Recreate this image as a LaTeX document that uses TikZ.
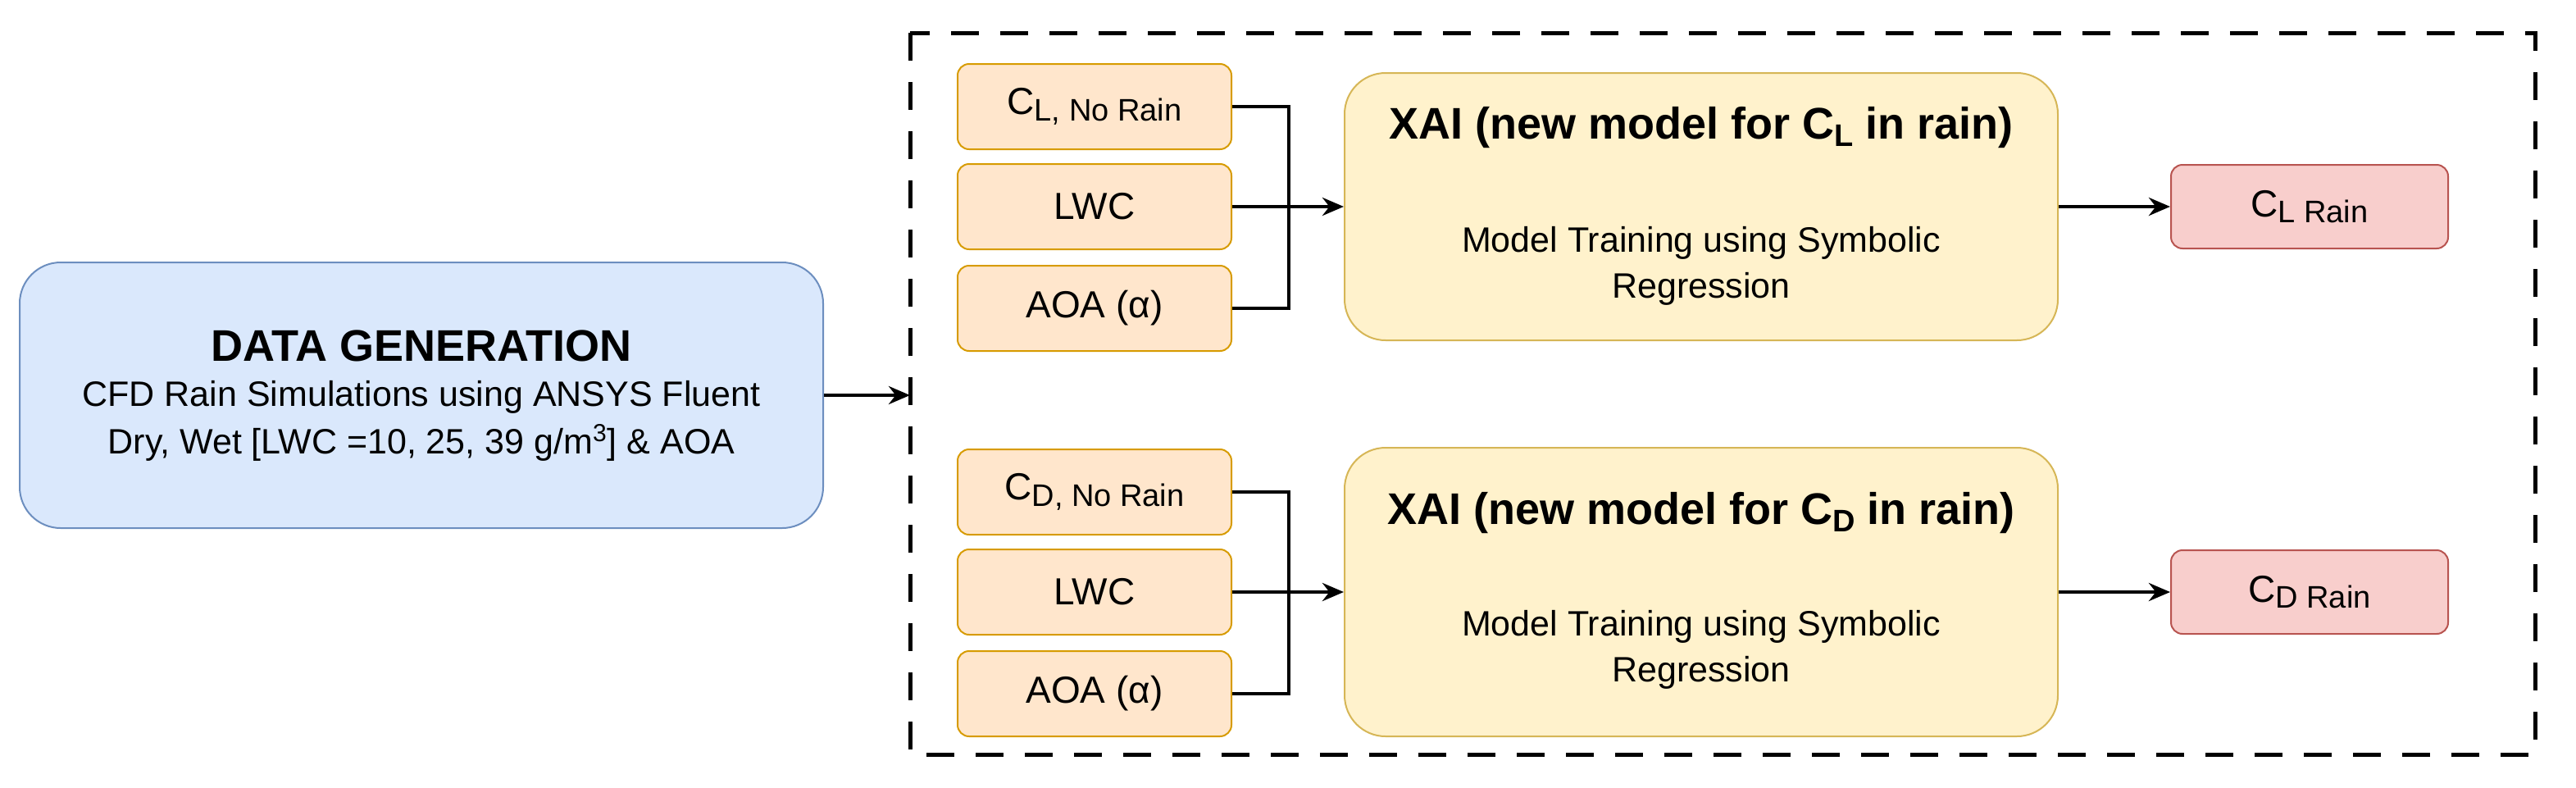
\documentclass[tikz,border=0pt]{standalone}
\usepackage{fontspec}
\setmainfont{Liberation Sans}
\usetikzlibrary{arrows.meta}
\definecolor{bf}{HTML}{DAE8FC}\definecolor{bs}{HTML}{6C8EBF}
\definecolor{of}{HTML}{FFE6CC}\definecolor{os}{HTML}{D79B00}
\definecolor{yf}{HTML}{FFF2CC}\definecolor{ys}{HTML}{D6B656}
\definecolor{rf}{HTML}{F8CECC}\definecolor{rs}{HTML}{B85450}
\newcommand{\sbs}[1]{\raisebox{-0.3ex}{\fontsize{19}{22}\selectfont #1}}
\begin{document}
\begin{tikzpicture}[x=1pt,y=-1pt,
 box/.style={draw,line width=1pt,rounded corners=#1,inner sep=0pt},
 inb/.style={box=7pt,fill=of,draw=os,minimum width=167pt,minimum height=52pt,font=\fontsize{23}{27}\selectfont},
 outb/.style={box=7pt,fill=rf,draw=rs,minimum width=169pt,minimum height=51pt,font=\fontsize{23}{27}\selectfont},
 xai/.style={box=25pt,fill=yf,draw=ys,minimum width=435pt,align=center},
 con/.style={line width=2.2pt},
 arr/.style={con,-{Stealth[length=13pt,width=11pt]}}]
\useasboundingbox (0,0) rectangle (1571,480);
\draw[line width=2.5pt,dash pattern=on 17pt off 13pt] (555,20) rectangle (1546,460);
\node[box=25pt,fill=bf,draw=bs,minimum width=490pt,minimum height=162pt,align=center] (dg) at (257,241) {};
\node[font=\fontsize{27}{30}\selectfont\bfseries] (dgt) at (257,211) {DATA GENERATION};
\node[font=\fontsize{21.5}{24}\selectfont] (dg1) at (257,242) {CFD Rain Simulations using ANSYS Fluent};
\node[font=\fontsize{21.5}{24}\selectfont] (dg2) at (257,270) {Dry, Wet [LWC =10, 25, 39 g/m\textsuperscript{3}] \& AOA};
\coordinate (dge) at (555,241);
\draw[arr] (dg.east) -- (dge);
\foreach \s/\L/\y/\h/\tt/\mm in {a/L/0/163/78/162, b/D/235/176/313/396}{
 \node[inb] (\s1) at (667.5,65+\y) {C\sbs{\L, No Rain}};
 \node[inb] (\s2) at (667.5,126+\y) {LWC};
 \node[inb] (\s3) at (667.5,188+\y) {AOA (α)};
 \node[xai,minimum height=\h pt] (\s x) at (1037.5,126+\y) {};
 \node[font=\fontsize{27}{30}\selectfont\bfseries] (\s t) at (1037.5,\tt) {XAI (new model for C\sbs{\L} in rain)};
 \node[font=\fontsize{21.5}{28}\selectfont,align=center] (\s m) at (1037.5,\mm) {Model Training using Symbolic\\Regression};
 \node[outb] (\s r) at (1408.5,126+\y) {C\sbs{\L\ Rain}};
 \draw[con] (\s1.east) -| (786,126+\y) |- (\s3.east);
 \draw[arr] (\s2.east) -- (\s x.west);
 \draw[arr] (\s x.east) -- (\s r.west);
}
\end{tikzpicture}
\end{document}
